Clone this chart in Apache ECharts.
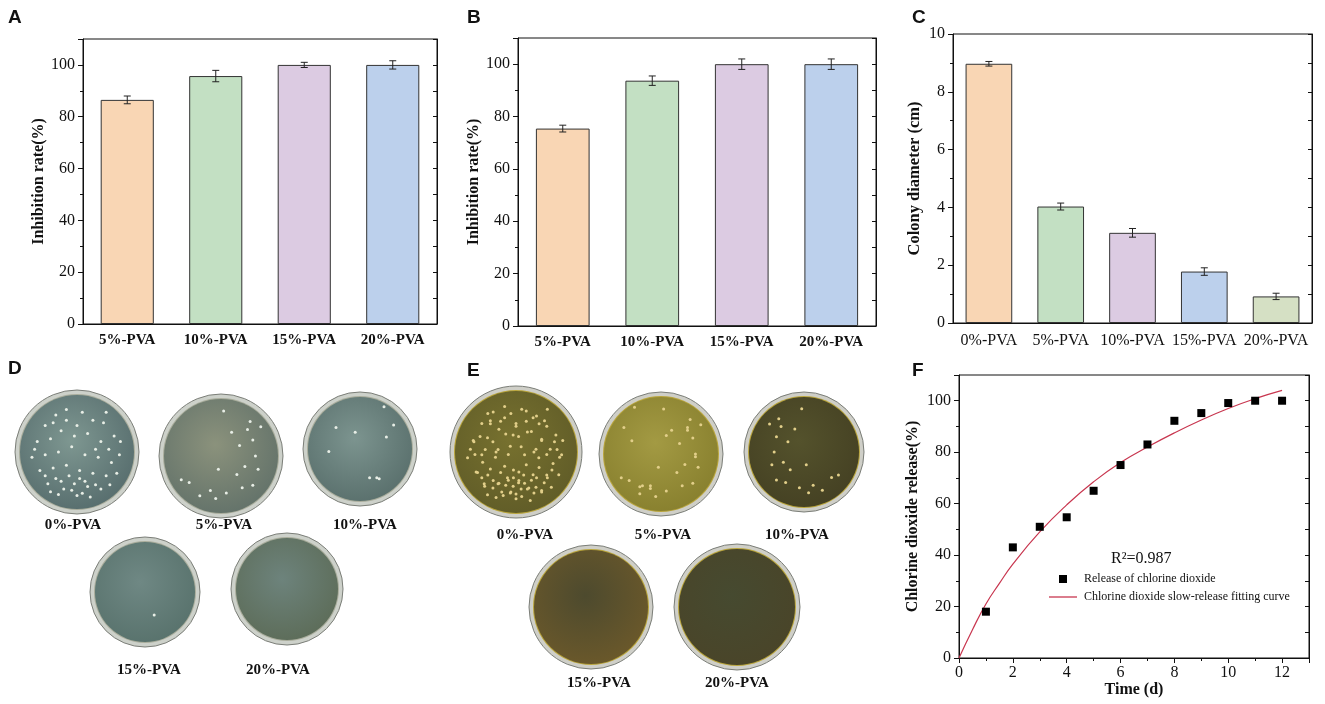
<!DOCTYPE html>
<html>
<head>
<meta charset="utf-8">
<script src="https://cdn.jsdelivr.net/npm/echarts@6/dist/echarts.min.js"></script>
<style>
  html, body { margin: 0; padding: 0; background: #fff; }
  #main { width: 1325px; height: 704px; }
</style>
</head>
<body>
<div id="main"></div>
<script>
// ---- data ----
const pvaCats = ['5%-PVA', '10%-PVA', '15%-PVA', '20%-PVA'];
const inhibitA = [86.5, 95.7, 100, 100];
const inhibitAErr = [1.5, 2.2, 1.0, 1.6];
const inhibitB = [75.4, 93.7, 100, 100];
const inhibitBErr = [1.3, 1.8, 2.0, 2.0];

const colonyCats = ['0%-PVA', '5%-PVA', '10%-PVA', '15%-PVA', '20%-PVA'];
const colonyDiam = [8.97, 4.03, 3.12, 1.78, 0.92];
const colonyErr = [0.08, 0.12, 0.15, 0.13, 0.11];

const releaseDays = [1, 2, 3, 4, 5, 6, 7, 8, 9, 10, 11, 12];
const releasePct = [18, 43, 51, 54.7, 65, 75, 83, 92.2, 95.2, 99.1, 100, 100];
const fitDays = [0, 0.5, 1, 1.5, 2, 3, 4, 5, 6, 7, 8, 9, 10, 11, 12];
const fitPct = [0, 11, 21, 29, 36.5, 49, 59.5, 68.5, 76, 82, 87.5, 92.5, 97, 100.8, 104];

const plateLabels = ['0%-PVA', '5%-PVA', '10%-PVA', '15%-PVA', '20%-PVA'];

// colony spots on the plates (relative to plate radius)
const spotsMany = [[-0.6,-0.5],[-0.4,-0.7],[-0.2,-0.8],[0.1,-0.75],[0.3,-0.6],[0.5,-0.55],[0.7,-0.3],[-0.75,-0.2],
  [-0.5,-0.25],[-0.3,-0.4],[0,-0.5],[0.2,-0.35],[0.45,-0.2],[0.8,0.05],[-0.85,0.1],[-0.6,0.05],[-0.35,0],[-0.1,-0.1],
  [0.15,0.05],[0.4,0.1],[0.65,0.2],[-0.7,0.35],[-0.45,0.3],[-0.2,0.25],[0.05,0.35],[0.3,0.4],[0.55,0.45],[0.75,0.4],
  [-0.55,0.6],[-0.3,0.55],[-0.05,0.6],[0.2,0.65],[0.45,0.7],[-0.35,0.8],[0,0.82],[0.25,0.85],[-0.15,0.45],[0.6,-0.05],
  [-0.2,-0.6],[0.35,-0.05],[-0.5,0.75],[-0.1,0.72],[0.1,0.78],[0.35,0.62],[-0.6,0.45],[0.62,0.62],[-0.25,0.7],[0.05,0.5],
  [-0.4,0.5],[0.15,0.55],[-0.8,-0.05],[0.82,-0.2],[-0.05,-0.3],[0.55,-0.75],[-0.45,-0.55]];
const spotsSome = [[0.05,-0.85],[0.2,-0.45],[0.5,-0.5],[0.6,-0.3],[0.35,-0.2],[0.65,0],[0.45,0.2],[0.7,0.25],[-0.05,0.25],
  [0.3,0.35],[-0.75,0.45],[-0.6,0.5],[-0.2,0.65],[0.1,0.7],[0.4,0.6],[0.6,0.55],[-0.4,0.75],[-0.1,0.8],[0.75,-0.55],[0.55,-0.65]];
const spotsFew = [[0.5,-0.88],[-0.5,-0.45],[-0.1,-0.35],[0.7,-0.5],[0.55,-0.25],[-0.65,0.05],[0.35,0.6],[0.2,0.6],[0.4,0.62]];
const spotsOne = [[0.2,0.5]];

// ---- layout / style ----
const serif = 'Liberation Serif';
const ink = '#111';
const barBorder = '#333';
const palette = ['#f9d6b4', '#c3e0c3', '#dccbe2', '#bcd0ec', '#d5e0c4'];

const platesD = [
  { cx: 77, cy: 452, r: 62, c: ['#7e9791', '#53696a'], spots: spotsMany },
  { cx: 221, cy: 456, r: 62, c: ['#8b927c', '#5f6f68'], spots: spotsSome },
  { cx: 360, cy: 449, r: 57, c: ['#7c948f', '#566c69'], spots: spotsFew },
  { cx: 145, cy: 592, r: 55, c: ['#6f8884', '#56706a'], spots: spotsOne },
  { cx: 287, cy: 589, r: 56, c: ['#6d837c', '#5b6a55'], spots: [] }
];
const labelsD = [[73, 525], [224, 525], [365, 525], [149, 670], [278, 670]];
const platesE = [
  { cx: 516, cy: 452, r: 66, c: ['#77712f', '#5e5a27'], spots: spotsMany.concat(spotsMany.map(p => [-p[0] * 0.9, p[1] * 0.9])) },
  { cx: 661, cy: 454, r: 62, c: ['#a39a43', '#857d2c'], spots: spotsSome.concat(spotsFew.map(p => [-p[0], p[1]])) },
  { cx: 804, cy: 452, r: 60, c: ['#54522c', '#433f22'], spots: spotsSome.map(p => [-p[0] * 0.9, p[1]]) },
  { cx: 591, cy: 607, r: 62, c: ['#4d4a2e', '#6e5a2a'], spots: [] },
  { cx: 737, cy: 607, r: 63, c: ['#464a30', '#4a4428'], spots: [] }
];
const labelsE = [[525, 535], [663, 535], [797, 535], [599, 683], [737, 683]];

function plate(p, rim, inner, spotColor) {
  const children = [
    { type: 'circle', shape: { cx: p.cx, cy: p.cy, r: p.r }, style: { fill: rim, stroke: '#7b7e78', lineWidth: 1 } },
    { type: 'circle', shape: { cx: p.cx, cy: p.cy, r: p.r - 4 }, style: { fill: inner, stroke: null } },
    { type: 'circle', shape: { cx: p.cx, cy: p.cy, r: p.r - 5 },
      style: { fill: new echarts.graphic.RadialGradient(0.45, 0.4, 0.7, [
        { offset: 0, color: p.c[0] }, { offset: 1, color: p.c[1] }]) } }
  ];
  p.spots.forEach(s => {
    children.push({ type: 'circle', shape: { cx: p.cx + s[0] * (p.r - 9), cy: p.cy + s[1] * (p.r - 9), r: 1.5 },
      style: { fill: spotColor } });
  });
  return { type: 'group', children };
}

function plateText(pos, name) {
  return { type: 'text', x: pos[0], y: pos[1],
    style: { text: name, fill: ink, font: 'bold 15px "Liberation Serif"', align: 'center', verticalAlign: 'middle' } };
}

const graphics = [];
platesD.forEach((p, i) => { graphics.push(plate(p, '#cdd1ca', '#a9ad9c', '#e8eee6')); graphics.push(plateText(labelsD[i], plateLabels[i])); });
platesE.forEach((p, i) => { graphics.push(plate(p, '#cfcfc8', '#b9a53c', '#e2cf8a')); graphics.push(plateText(labelsE[i], plateLabels[i])); });

function panelTitle(t, left, top) {
  return { text: t, left, top, textStyle: { fontFamily: 'Liberation Sans', fontWeight: 'bold', fontSize: 19, color: ink } };
}

function catAxes(grid, cats, bold, fontSize, margin) {
  return [
    { type: 'category', gridIndex: grid, data: cats,
      axisLine: { lineStyle: { color: ink, width: 1 } },
      axisTick: { alignWithLabel: true, length: 5, lineStyle: { color: ink } },
      axisLabel: { color: ink, fontFamily: serif, fontWeight: bold ? 'bold' : 'normal', fontSize, margin, interval: 0 } },
    { type: 'category', gridIndex: grid, data: cats,
      axisLine: { show: false }, axisTick: { length: 3, lineStyle: { color: ink } }, axisLabel: { show: false } }
  ];
}

function valAxes(grid, max, interval, name, nameSize, nameGap, labelSize, showMax) {
  return [
    { type: 'value', gridIndex: grid, min: 0, max, interval, name, nameLocation: 'middle', nameGap,
      nameTextStyle: { fontFamily: serif, fontWeight: 'bold', fontSize: nameSize, color: ink },
      axisLine: { show: true, lineStyle: { color: ink } },
      axisTick: { show: true, length: 5, lineStyle: { color: ink } },
      minorTick: { show: true, splitNumber: 2, length: 3, lineStyle: { color: ink } },
      axisLabel: { color: ink, fontFamily: serif, fontSize: labelSize, margin: 8, showMaxLabel: showMax },
      splitLine: { show: false } },
    { type: 'value', gridIndex: grid, position: 'right', min: 0, max, interval: interval / 2,
      axisLine: { show: true, lineStyle: { color: ink } },
      axisTick: { show: true, inside: true, length: 4, lineStyle: { color: ink } },
      axisLabel: { show: false }, splitLine: { show: false } }
  ];
}

function barSeries(xi, yi, values, width) {
  return { type: 'bar', xAxisIndex: xi, yAxisIndex: yi, barWidth: width,
    data: values.map((v, i) => ({ value: v, itemStyle: { color: palette[i], borderColor: barBorder, borderWidth: 1 } })) };
}

function errSeries(xi, yi, values, errs) {
  return { type: 'custom', xAxisIndex: xi, yAxisIndex: yi, z: 5,
    data: values.map((v, i) => [i, v - errs[i], v + errs[i]]),
    renderItem: (params, api) => {
      const lo = api.coord([api.value(0), api.value(1)]);
      const hi = api.coord([api.value(0), api.value(2)]);
      const w = 3.5;
      const st = { stroke: '#222', lineWidth: 1 };
      return { type: 'group', children: [
        { type: 'line', shape: { x1: lo[0], y1: lo[1], x2: hi[0], y2: hi[1] }, style: st },
        { type: 'line', shape: { x1: lo[0] - w, y1: lo[1], x2: lo[0] + w, y2: lo[1] }, style: st },
        { type: 'line', shape: { x1: hi[0] - w, y1: hi[1], x2: hi[0] + w, y2: hi[1] }, style: st }
      ] };
    } };
}

const gridBox = { show: true, borderColor: ink, borderWidth: 1, backgroundColor: 'transparent' };

const fAxisX = { type: 'value', gridIndex: 3, min: 0, max: 13, interval: 2, name: 'Time (d)', nameLocation: 'middle', nameGap: 23,
  nameTextStyle: { fontFamily: serif, fontWeight: 'bold', fontSize: 16, color: ink },
  axisLine: { show: true, onZero: false, lineStyle: { color: ink } },
  axisTick: { length: 5, lineStyle: { color: ink } },
  minorTick: { show: true, splitNumber: 2, length: 3, lineStyle: { color: ink } },
  axisLabel: { color: ink, fontFamily: serif, fontSize: 16, margin: 7, showMaxLabel: false },
  splitLine: { show: false } };

const option = {
  animation: false,
  backgroundColor: '#fff',
  title: [
    panelTitle('A', 3, 3), panelTitle('B', 462, 3), panelTitle('C', 907, 3),
    panelTitle('D', 3, 354), panelTitle('E', 462, 356), panelTitle('F', 907, 356),
    { text: 'R²=0.987', left: 1106, top: 546, textStyle: { fontFamily: serif, fontWeight: 'normal', fontSize: 16, color: ink } }
  ],
  legend: [
    { data: [{ name: 'Release of chlorine dioxide', icon: 'rect' }], left: 1059, top: 573, padding: 0, itemWidth: 8, itemHeight: 8,
      textStyle: { fontFamily: serif, fontSize: 12, color: ink, padding: [0, 0, 0, 12] } },
    { data: [{ name: 'Chlorine dioxide slow-release fitting curve', icon: 'rect' }], left: 1049, top: 591, padding: 0, itemWidth: 28, itemHeight: 1.3,
      textStyle: { fontFamily: serif, fontSize: 12, color: ink, padding: [0, 0, 0, 2] } }
  ],
  grid: [
    Object.assign({ left: 83, top: 39, width: 354, height: 285 }, gridBox),
    Object.assign({ left: 518, top: 38, width: 358, height: 288 }, gridBox),
    Object.assign({ left: 953, top: 34, width: 359, height: 289 }, gridBox),
    Object.assign({ left: 959, top: 375, width: 350, height: 283 }, gridBox)
  ],
  xAxis: [
    ...catAxes(0, pvaCats, true, 15, 9),
    ...catAxes(1, pvaCats, true, 15, 9),
    ...catAxes(2, colonyCats, false, 16, 10),
    fAxisX
  ],
  yAxis: [
    ...valAxes(0, 110, 20, 'Inhibition rate(%)', 16, 36, 16, false),
    ...valAxes(1, 110, 20, 'Inhibition rate(%)', 16, 36, 16, false),
    ...valAxes(2, 10, 2, 'Colony diameter (cm)', 16.5, 30, 16, true),
    ...valAxes(3, 110, 20, 'Chlorine dioxide release(%)', 16, 38, 16, false)
  ],
  series: [
    barSeries(0, 0, inhibitA, '60%'),
    errSeries(0, 0, inhibitA, inhibitAErr),
    barSeries(2, 2, inhibitB, '60%'),
    errSeries(2, 2, inhibitB, inhibitBErr),
    barSeries(4, 4, colonyDiam, '65%'),
    errSeries(4, 4, colonyDiam, colonyErr),
    { name: 'Chlorine dioxide slow-release fitting curve', type: 'line', xAxisIndex: 6, yAxisIndex: 6,
      data: fitDays.map((d, i) => [d, fitPct[i]]), smooth: true, symbol: 'none',
      lineStyle: { color: '#c8364f', width: 1.2 }, itemStyle: { color: '#c8364f' } },
    { name: 'Release of chlorine dioxide', type: 'scatter', xAxisIndex: 6, yAxisIndex: 6, z: 4,
      data: releaseDays.map((d, i) => [d, releasePct[i]]), symbol: 'rect', symbolSize: 8,
      itemStyle: { color: '#000', opacity: 1 } }
  ],
  graphic: graphics
};

const chart = echarts.init(document.getElementById('main'), null, { renderer: 'canvas' });
chart.setOption(option);
</script>
</body>
</html>
